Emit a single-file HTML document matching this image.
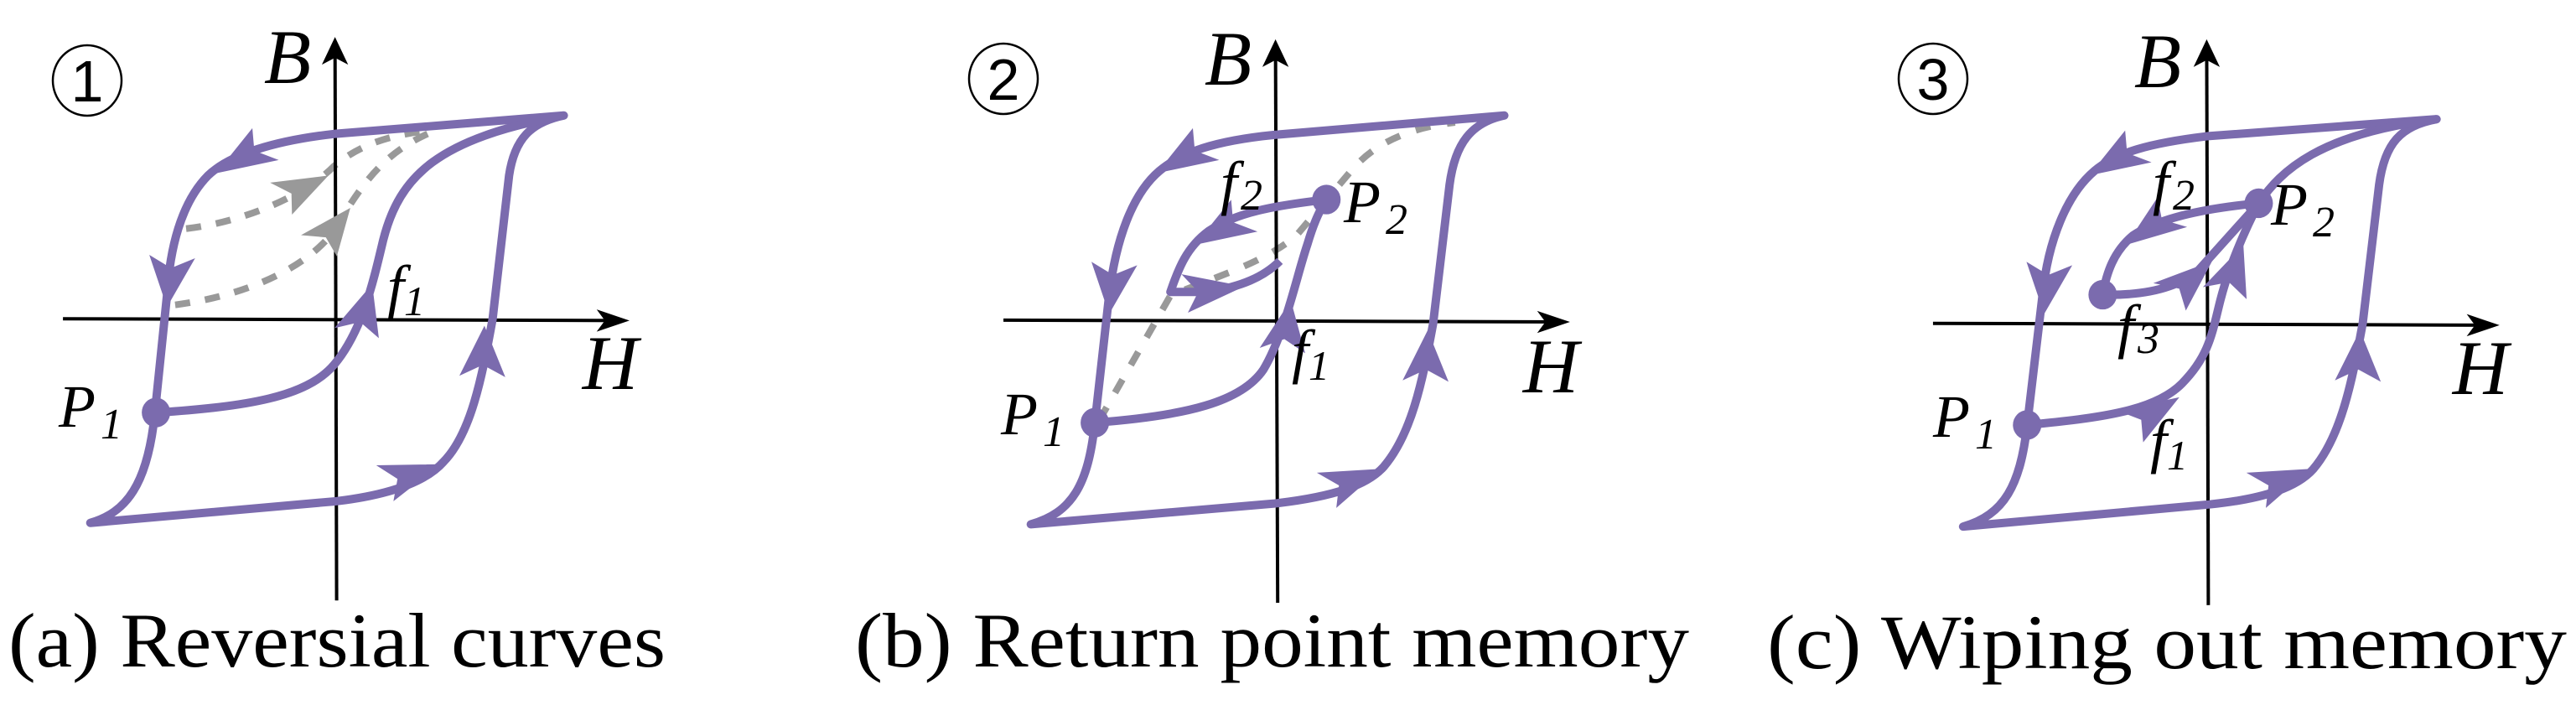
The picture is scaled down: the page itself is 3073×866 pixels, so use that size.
<!DOCTYPE html>
<html><head><meta charset="utf-8"><style>
html,body{margin:0;padding:0;background:#fff;}
svg{display:block;}
text{font-family:"Liberation Serif",serif;fill:#000;}
</style></head><body>
<svg width="3073" height="866" viewBox="0 0 3073 866" xmlns="http://www.w3.org/2000/svg">
<defs>
<g id="arr"><polygon points="0,0 -110,-42 -85,0 -110,42" fill="#7b6bae"/></g>
<g id="garr"><polygon points="0,0 -100,-40 -78,0 -100,40" fill="#999"/></g>
<g id="ax"><polygon points="0,0 -60,-24 -45,0 -60,24" fill="#000"/></g>
</defs>

<!-- Panel A -->
<g transform="translate(0,0) scale(0.653,0.551)">
 <g fill="none" stroke-linecap="butt">
  <path d="M320,660 C450,640 560,580 610,500 C660,400 700,330 790,285" stroke="#999" stroke-width="8" stroke-dasharray="18,18" vector-effect="non-scaling-stroke"/>
  <path d="M340,495 C450,480 560,420 610,360 C650,320 700,295 770,285" stroke="#999" stroke-width="8" stroke-dasharray="18,18" vector-effect="non-scaling-stroke"/>
  <line x1="612" y1="90" x2="615" y2="1300" stroke="#000" stroke-width="4" vector-effect="non-scaling-stroke"/>
  <line x1="115" y1="690" x2="1140" y2="694" stroke="#000" stroke-width="4" vector-effect="non-scaling-stroke"/>
  <path d="M1030,250 L610,290 C500,305 420,335 380,380 C330,440 310,540 305,640 L283,893 C270,1050 230,1110 165,1132 L615,1085 C720,1070 780,1040 810,1000 C860,940 880,820 900,690 L930,380 C940,300 970,265 1030,250 Z" stroke="#7b6bae" stroke-width="10" stroke-linejoin="round" vector-effect="non-scaling-stroke"/>
  <path d="M290,893 C450,880 560,860 610,790 C660,720 680,620 700,520 C730,380 800,300 1030,250" stroke="#7b6bae" stroke-width="10" vector-effect="non-scaling-stroke"/>
 </g>
 <use href="#ax" transform="translate(612,80) rotate(-90)"/>
 <use href="#ax" transform="translate(1150,694) rotate(0)"/>
 <use href="#arr" transform="translate(395,375) rotate(145)"/>
 <use href="#arr" transform="translate(305,665) rotate(95)"/>
 <use href="#arr" transform="translate(680,615) rotate(-75)"/>
 <use href="#arr" transform="translate(885,705) rotate(-88)"/>
 <use href="#arr" transform="translate(805,1005) rotate(-22)"/>
 <use href="#garr" transform="translate(600,380) rotate(-30)"/>
 <use href="#garr" transform="translate(640,450) rotate(-55)"/>
 <ellipse cx="285" cy="893" rx="26" ry="32" fill="#7b6bae"/>
</g>

<!-- Panel B -->
<g transform="translate(1024,0) scale(0.653,0.551)">
 <g fill="none" stroke-linecap="butt">
  <path d="M440,910 L570,640 C650,600 740,570 800,510 L900,370 C950,300 1020,275 1090,265" stroke="#999" stroke-width="8" stroke-dasharray="18,20" vector-effect="non-scaling-stroke"/>
  <line x1="762" y1="95" x2="766" y2="1305" stroke="#000" stroke-width="4" vector-effect="non-scaling-stroke"/>
  <line x1="265" y1="693" x2="1290" y2="697" stroke="#000" stroke-width="4" vector-effect="non-scaling-stroke"/>
  <path d="M1180,250 L760,292 C650,305 590,330 550,370 C500,420 470,520 458,640 L432,915 C420,1050 390,1110 315,1135 L760,1090 C870,1075 930,1050 960,1010 C1010,940 1030,830 1050,700 L1080,400 C1090,310 1120,265 1180,250 Z" stroke="#7b6bae" stroke-width="10" stroke-linejoin="round" vector-effect="non-scaling-stroke"/>
  <path d="M432,915 C600,900 700,870 740,800 C780,720 800,600 820,530 C830,490 840,460 855,432" stroke="#7b6bae" stroke-width="10" vector-effect="non-scaling-stroke"/>
  <path d="M855,432 C760,445 690,460 640,500 C600,535 585,580 570,632 L640,632 C700,620 740,600 770,565" stroke="#7b6bae" stroke-width="10" stroke-linejoin="round" vector-effect="non-scaling-stroke"/>
 </g>
 <use href="#ax" transform="translate(762,85) rotate(-90)"/>
 <use href="#ax" transform="translate(1300,697) rotate(0)"/>
 <use href="#arr" transform="translate(545,375) rotate(145)"/>
 <use href="#arr" transform="translate(458,680) rotate(95)"/>
 <use href="#arr" transform="translate(615,530) rotate(145)"/>
 <use href="#arr" transform="translate(705,620) rotate(-8)"/>
 <use href="#arr" transform="translate(790,650) rotate(-82)"/>
 <use href="#arr" transform="translate(1040,715) rotate(-88)"/>
 <use href="#arr" transform="translate(955,1015) rotate(-25)"/>
 <ellipse cx="432" cy="915" rx="26" ry="32" fill="#7b6bae"/>
 <ellipse cx="855" cy="432" rx="26" ry="32" fill="#7b6bae"/>
</g>

<!-- Panel C -->
<g transform="translate(2048,0) scale(0.653,0.551)">
 <g fill="none" stroke-linecap="butt">
  <line x1="895" y1="95" x2="898" y2="1310" stroke="#000" stroke-width="4" vector-effect="non-scaling-stroke"/>
  <line x1="395" y1="700" x2="1420" y2="704" stroke="#000" stroke-width="4" vector-effect="non-scaling-stroke"/>
  <path d="M1315,258 L895,295 C790,310 730,330 690,370 C640,420 605,520 595,640 L567,920 C555,1050 525,1115 450,1140 L900,1092 C1000,1080 1060,1055 1090,1015 C1140,945 1160,830 1180,700 L1210,400 C1220,310 1250,272 1315,258 Z" stroke="#7b6bae" stroke-width="10" stroke-linejoin="round" vector-effect="non-scaling-stroke"/>
  <path d="M567,920 C700,905 800,890 850,830 C900,770 905,720 920,650 C935,580 960,510 990,440 C1030,370 1100,290 1315,258" stroke="#7b6bae" stroke-width="10" vector-effect="non-scaling-stroke"/>
  <path d="M990,440 C900,450 810,470 760,510 C725,545 712,590 705,638" stroke="#7b6bae" stroke-width="10" vector-effect="non-scaling-stroke"/>
  <path d="M705,638 C780,640 840,625 880,585 L990,440" stroke="#7b6bae" stroke-width="10" vector-effect="non-scaling-stroke"/>
 </g>
 <use href="#ax" transform="translate(895,85) rotate(-90)"/>
 <use href="#ax" transform="translate(1430,704) rotate(0)"/>
 <use href="#arr" transform="translate(680,380) rotate(145)"/>
 <use href="#arr" transform="translate(598,680) rotate(95)"/>
 <use href="#arr" transform="translate(748,530) rotate(140)"/>
 <use href="#arr" transform="translate(905,565) rotate(-45)"/>
 <use href="#arr" transform="translate(962,530) rotate(-72)"/>
 <use href="#arr" transform="translate(845,860) rotate(-35)"/>
 <use href="#arr" transform="translate(1175,715) rotate(-88)"/>
 <use href="#arr" transform="translate(1085,1015) rotate(-25)"/>
 <ellipse cx="567" cy="920" rx="26" ry="32" fill="#7b6bae"/>
 <ellipse cx="990" cy="440" rx="26" ry="32" fill="#7b6bae"/>
 <ellipse cx="705" cy="638" rx="26" ry="32" fill="#7b6bae"/>
</g>

<!-- circled numbers -->
<g fill="none" stroke="#000" stroke-width="2.5">
 <ellipse cx="104" cy="96" rx="41" ry="42"/>
 <ellipse cx="1197" cy="94" rx="41" ry="42"/>
 <ellipse cx="2306" cy="94" rx="41" ry="42"/>
</g>
<g font-size="70" text-anchor="middle">
 <text x="104" y="121" style="font-family:'Liberation Sans',sans-serif">1</text>
 <text x="1197" y="119" style="font-family:'Liberation Sans',sans-serif">2</text>
 <text x="2306" y="119" style="font-family:'Liberation Sans',sans-serif">3</text>
</g>

<!-- axis labels -->
<g font-style="italic" font-size="92" text-anchor="middle">
 <text x="343" y="99">B</text>
 <text x="728" y="464">H</text>
 <text x="1465" y="101">B</text>
 <text x="1850" y="468">H</text>
 <text x="2574" y="104">B</text>
 <text x="2959" y="470">H</text>
</g>

<!-- point labels -->
<g font-style="italic" font-size="72">
 <text x="462" y="366">f<tspan font-size="50" dy="10">1</tspan></text>
 <text x="70" y="509">P<tspan font-size="52" dy="14" dx="6">1</tspan></text>
 <text x="1456" y="242">f<tspan font-size="52" dy="8" dx="4">2</tspan></text>
 <text x="1603" y="265">P<tspan font-size="52" dy="14" dx="6">2</tspan></text>
 <text x="1541" y="443">f<tspan font-size="50" dy="10">1</tspan></text>
 <text x="1194" y="518">P<tspan font-size="52" dy="14" dx="6">1</tspan></text>
 <text x="2568" y="242">f<tspan font-size="52" dy="8" dx="4">2</tspan></text>
 <text x="2709" y="268">P<tspan font-size="52" dy="14" dx="6">2</tspan></text>
 <text x="2526" y="413">f<tspan font-size="52" dy="8" dx="4">3</tspan></text>
 <text x="2565" y="550">f<tspan font-size="50" dy="10">1</tspan></text>
 <text x="2306" y="521">P<tspan font-size="52" dy="14" dx="6">1</tspan></text>
</g>

<!-- captions -->
<g font-size="92">
 <text x="10" y="795" textLength="784" lengthAdjust="spacingAndGlyphs">(a) Reversial curves</text>
 <text x="1020" y="795" textLength="995" lengthAdjust="spacingAndGlyphs">(b) Return point memory</text>
 <text x="2108" y="797" textLength="954" lengthAdjust="spacingAndGlyphs">(c) Wiping out memory</text>
</g>
</svg>
</body></html>
